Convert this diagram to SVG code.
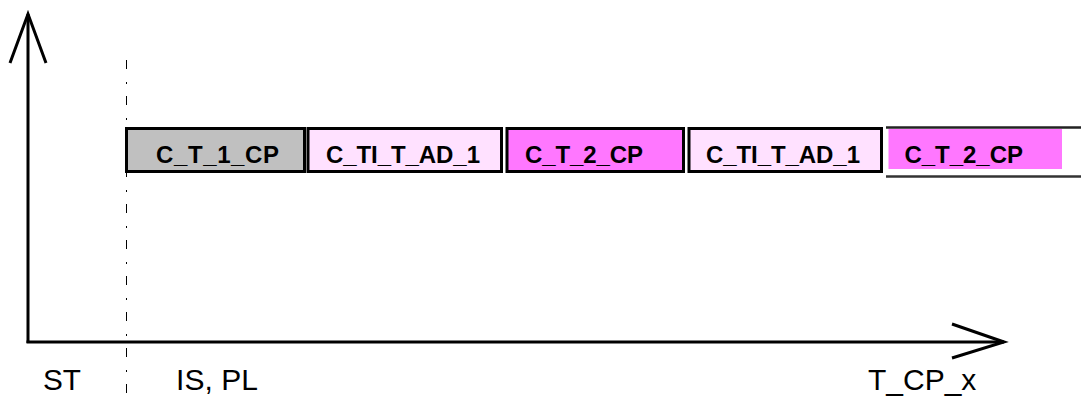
<svg xmlns="http://www.w3.org/2000/svg" width="1081" height="400" viewBox="0 0 1081 400">
<style>
.box{stroke:#000;stroke-width:3}
.grey{fill:#C0C0C0}
.light{fill:#FFE1FF}
.mag{fill:#FF77FF}
.bt{font-family:"Liberation Sans",Arial,sans-serif;font-weight:bold;font-size:24px;fill:#000}
.lb{font-family:"Liberation Sans",Arial,sans-serif;font-size:30px;fill:#000}
.ax{fill:none;stroke:#000;stroke-width:3}
</style>
<rect width="1081" height="400" fill="#fff"/>
<g id="axes">
<line x1="126.5" y1="60" x2="126.5" y2="400" stroke="#000" stroke-width="1" stroke-dasharray="9 13 2 12"/>
<path class="ax" d="M28,343 V14"/>
<polyline class="ax" points="10,63 28,14 46,63"/>
<path class="ax" d="M26.5,342 H1004"/>
<polyline class="ax" points="952,324 1004,342 952,358"/>
</g>
<g id="n1"><rect class="box grey" x="126.5" y="128.5" width="178" height="43"/><text class="bt" x="156" y="162.5" textLength="123" lengthAdjust="spacing">C_T_1_CP</text></g>
<g id="n2"><rect class="box light" x="308" y="128.5" width="193.5" height="43"/><text class="bt" x="326" y="162.5" textLength="154" lengthAdjust="spacing">C_TI_T_AD_1</text></g>
<g id="n3"><rect class="box mag" x="507" y="128.5" width="176.5" height="43"/><text class="bt" x="525" y="162.5" textLength="118" lengthAdjust="spacing">C_T_2_CP</text></g>
<g id="n4"><rect class="box light" x="689" y="128.5" width="192.5" height="43"/><text class="bt" x="706" y="162.5" textLength="154" lengthAdjust="spacing">C_TI_T_AD_1</text></g>
<g id="n5"><rect class="mag" x="888.5" y="129" width="173.5" height="40"/>
<line x1="886" y1="127.5" x2="1081" y2="127.5" stroke="#222" stroke-width="2.5"/>
<line x1="886" y1="176.5" x2="1081" y2="176.5" stroke="#333" stroke-width="2.5"/>
<text class="bt" x="904.5" y="162.5" textLength="118.5" lengthAdjust="spacing">C_T_2_CP</text></g>
<g id="labels">
<text class="lb" x="43" y="390" textLength="38" lengthAdjust="spacingAndGlyphs">ST</text>
<text class="lb" x="176" y="390" textLength="82" lengthAdjust="spacing">IS, PL</text>
<text class="lb" x="868" y="390">T_CP_x</text>
</g>
</svg>
